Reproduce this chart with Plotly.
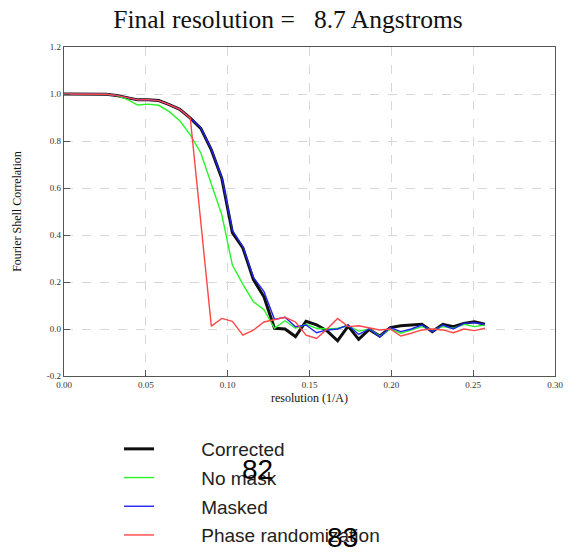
import plotly.graph_objects as go

resolution = [0.0, 0.00643, 0.01286, 0.01929, 0.02572, 0.03215, 0.03858, 0.04501, 0.05144, 0.05787,
              0.0643, 0.07073, 0.07716, 0.08359, 0.09002, 0.09645, 0.10288, 0.10931, 0.11574, 0.12217,
              0.1286, 0.13503, 0.14146, 0.14789, 0.15432, 0.16075, 0.16718, 0.17361, 0.18004, 0.18647,
              0.1929, 0.19933, 0.20576, 0.21219, 0.21862, 0.22505, 0.23148, 0.23791, 0.24434, 0.25077,
              0.2572]

corrected = [1.0, 1.0, 1.0, 1.0, 0.999, 0.994, 0.985, 0.975, 0.976, 0.972,
             0.955, 0.935, 0.897, 0.854, 0.762, 0.64, 0.41, 0.345, 0.21, 0.137,
             0.003, 0.0, -0.032, 0.033, 0.018, -0.008, -0.05, 0.012, -0.044, -0.002,
             -0.03, 0.006, 0.014, 0.017, 0.02, -0.011, 0.02, 0.01, 0.024, 0.031,
             0.02]

no_mask = [1.0, 1.0, 1.0, 1.0, 0.999, 0.993, 0.977, 0.953, 0.957, 0.952,
           0.925, 0.886, 0.826, 0.749, 0.62, 0.485, 0.272, 0.19, 0.116, 0.082,
           0.003, 0.035, 0.003, 0.02, 0.003, 0.0, 0.003, 0.014, -0.009, 0.0,
           -0.03, 0.0, -0.018, -0.004, 0.01, -0.004, 0.01, 0.003, 0.02, 0.01,
           0.017]

masked = [1.0, 1.0, 1.0, 1.0, 0.999, 0.994, 0.985, 0.975, 0.976, 0.972,
          0.955, 0.935, 0.897, 0.856, 0.765, 0.645, 0.42, 0.35, 0.22, 0.159,
          0.041, 0.05, 0.01, 0.017, -0.016, -0.004, 0.0, 0.017, -0.023, 0.0,
          -0.033, 0.006, -0.011, 0.0, 0.017, -0.011, 0.017, 0.0, 0.024, 0.027,
          0.02]

phase_randomization = [1.0, 1.0, 1.0, 1.0, 0.999, 0.994, 0.985, 0.975, 0.976, 0.972,
                       0.955, 0.935, 0.897, 0.45, 0.012, 0.045, 0.033, -0.026, -0.005, 0.03,
                       0.04, 0.05, 0.03, -0.026, -0.04, 0.0, 0.045, 0.01, 0.014, 0.006,
                       -0.004, 0.0, -0.03, -0.018, -0.004, 0.0, -0.004, -0.016, 0.0, -0.007,
                       0.003]

x_ticks = [0.0, 0.05, 0.10, 0.15, 0.20, 0.25, 0.30]
x_labels = ["0.00", "0.05", "0.10", "0.15", "0.20", "0.25", "0.30"]
y_ticks = [-0.2, 0.0, 0.2, 0.4, 0.6, 0.8, 1.0, 1.2]
y_labels = ["-0.2", "0.0", "0.2", "0.4", "0.6", "0.8", "1.0", "1.2"]

NB = "\u00a0"
series = [
    ("Corrected", corrected, "rgb(15,15,15)", 3.0),
    ("No mask", no_mask, "rgb(40,245,40)", 1.4),
    ("Masked", masked, "rgb(35,35,240)", 1.4),
    ("Phase randomization", phase_randomization, "rgb(255,70,70)", 1.4),
]

fig = go.Figure()
for i, (name, vals, col, w) in enumerate(series):
    fig.add_trace(go.Scatter(
        x=resolution, y=vals, mode="lines", name=NB * 8 + name,
        line=dict(color=col, width=w), legendgroup=str(i),
    ))

serif = "Liberation Serif, Times New Roman, serif"
sans = "Liberation Sans, Arial, sans-serif"
axis_common = dict(
    showline=True, linecolor="#555", linewidth=1.2, mirror=True,
    ticks="inside", ticklen=6, tickcolor="#555",
    showgrid=True, gridcolor="#d8d8d8", griddash="dash", gridwidth=1,
    zeroline=False, tickfont=dict(family=serif, size=9, color="#333"),
    automargin=False, tickmode="array",
)

OFF = 8  # page body margin: figure is drawn 8px right / down in the window
W, H = 573, 554
L, R, T, B = 64 - OFF, W - (555 - OFF), 47 - OFF, H - (376 - OFF)
pw, ph = W - L - R, H - T - B

def px_to_paper(xp, yp):
    # window pixels -> paper coordinates
    return (xp - OFF - L) / pw, (H - B - (yp - OFF)) / ph

a82 = px_to_paper(257, 470)
a83 = px_to_paper(342, 537)
leg = px_to_paper(119, 430)

fig.update_layout(
    width=W, height=H,
    margin=dict(l=L, r=R, t=T, b=B, autoexpand=False),
    paper_bgcolor="white", plot_bgcolor="white",
    title=dict(text="Final resolution =" + NB * 3 + "8.7 Angstroms", x=(288 - OFF) / W, xanchor="center",
               y=1 - (19 - OFF) / H, yanchor="middle",
               font=dict(family=serif, size=25.5, color="#111")),
    xaxis=dict(range=[0, 0.30], tickvals=x_ticks, ticktext=x_labels,
               title=dict(text="resolution (1/A)", font=dict(family=serif, size=12, color="#111"), standoff=4),
               **axis_common),
    yaxis=dict(range=[-0.2, 1.2], tickvals=y_ticks, ticktext=y_labels,
               title=dict(text="Fourier Shell Correlation", font=dict(family=serif, size=12, color="#111"), standoff=22),
               **axis_common),
    legend=dict(x=leg[0], y=leg[1], xanchor="left", yanchor="top",
                font=dict(family=sans, size=19, color="#222"),
                tracegroupgap=1, bgcolor="rgba(0,0,0,0)"),
    showlegend=True,
    annotations=[
        dict(text="82", x=a82[0], y=a82[1], xref="paper", yref="paper", showarrow=False,
             xanchor="center", yanchor="middle",
             font=dict(family=sans, size=28, color="black")),
        dict(text="83", x=a83[0], y=a83[1], xref="paper", yref="paper", showarrow=False,
             xanchor="center", yanchor="middle",
             font=dict(family=sans, size=28, color="black")),
    ],
)

fig.write_html("out.html")
